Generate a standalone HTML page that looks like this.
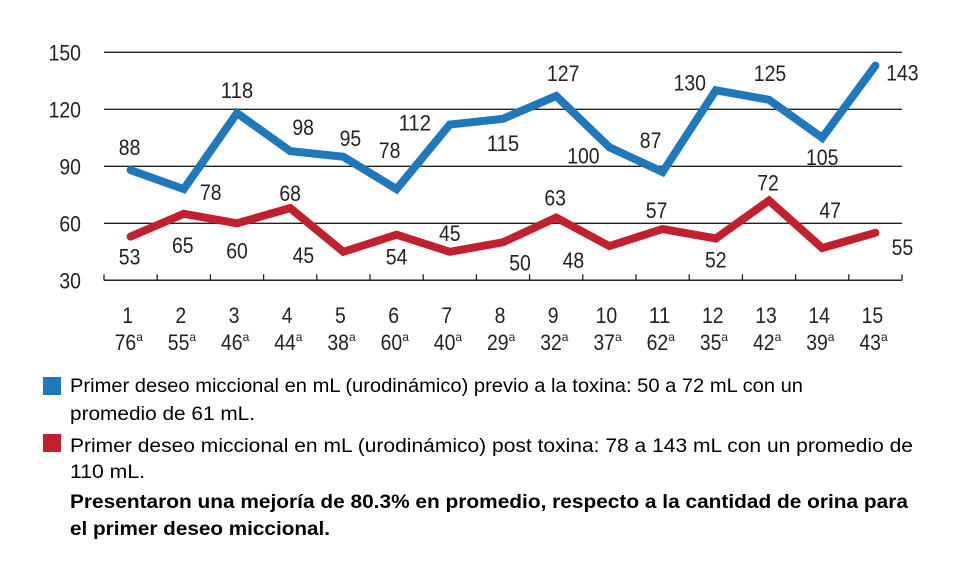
<!DOCTYPE html>
<html><head><meta charset="utf-8"><style>
html,body{margin:0;padding:0;background:#fff;}
svg{display:block;font-family:"Liberation Sans Narrow","Liberation Sans",sans-serif;}
</style></head><body>
<svg id="chart" width="958" height="562" viewBox="0 0 958 562" xmlns="http://www.w3.org/2000/svg">
<g id="grid"></g>
<g id="yaxis"></g>
<g id="xaxis"></g>
<g id="series"></g>
<g id="legend">
<rect x="43" y="377" width="18" height="18" fill="#1f78b9"/>
<text x="70" y="392" font-size="19" textLength="733" lengthAdjust="spacingAndGlyphs">Primer deseo miccional en mL (urodinámico) previo a la toxina: 50 a 72 mL con un</text>
<text x="70" y="420" font-size="19" textLength="185" lengthAdjust="spacingAndGlyphs">promedio de 61 mL.</text>
<rect x="43" y="434" width="18" height="18" fill="#c1202f"/>
<text x="70" y="452" font-size="19" textLength="843" lengthAdjust="spacingAndGlyphs">Primer deseo miccional en mL (urodinámico) post toxina: 78 a 143 mL con un promedio de</text>
<text x="70" y="478" font-size="19" textLength="75" lengthAdjust="spacingAndGlyphs">110 mL.</text>
<text x="70" y="508" font-size="19" font-weight="bold" textLength="838" lengthAdjust="spacingAndGlyphs">Presentaron una mejoría de 80.3% en promedio, respecto a la cantidad de orina para</text>
<text x="70" y="535" font-size="19" font-weight="bold" textLength="260" lengthAdjust="spacingAndGlyphs">el primer deseo miccional.</text>
</g>
</svg>
<script>
const categories=["1","2","3","4","5","6","7","8","9","10","11","12","13","14","15"];
const ages=["76","55","46","44","38","60","40","29","32","37","62","35","42","39","43"];
const previo=[88,78,118,98,95,78,112,115,127,100,87,130,125,105,143];
const post=[53,65,60,68,45,54,45,50,63,48,57,52,72,47,55];
const yTicks=[30,60,90,120,150];
const previoLabelDx=[-1,27,0,13,7,-7,-35,0,7,-26,-12,-26,1,0,27];
const previoLabelDy=[-23,3,-23,-24,-19,-39,-2,24,-23,8,-32,-8,-27,19,7];
const postLabelDx=[-1,-1,0,0,-40,0,0,17,-1,-36,-6,0,-1,8,27];
const postLabelDy=[20,31,27,-15,3,22,-19,20,-20,14,-19,21,-18,-38,14];
const NS="http://www.w3.org/2000/svg";
const L=104,R=902,Y0=280.3,PX=1.9;
const band=(R-L)/categories.length;
const x=i=>L+band*(i+0.5);
const y=v=>Y0-(v-30)*PX;
function mk(tag,attrs,parent,text){const e=document.createElementNS(NS,tag);for(const k in attrs)e.setAttribute(k,attrs[k]);if(text!==undefined)e.textContent=text;parent.appendChild(e);return e;}
const grid=document.getElementById('grid'),ya=document.getElementById('yaxis'),xa=document.getElementById('xaxis'),ser=document.getElementById('series');
yTicks.forEach(t=>{
  if(t>30){const g=mk('line',{x1:L,x2:R,y1:y(t),y2:y(t),stroke:'#222','stroke-width':1.3},grid);
  
  }
  const s=String(t);
  const tl=mk('text',{x:81-s.length*10.8,y:y(t)+8,'font-size':22,fill:'#222',textLength:s.length*10.8,lengthAdjust:'spacingAndGlyphs'},ya,s);
  
  
});
const ax=mk('line',{x1:L,x2:R,y1:Y0,y2:Y0,stroke:'#222','stroke-width':1.5},xa);


for(let i=0;i<=categories.length;i++){
  const tk=mk('line',{x1:L+band*i,x2:L+band*i,y1:Y0-6,y2:Y0,stroke:'#222','stroke-width':1.3},xa);
  
  
}
categories.forEach((c,i)=>{
  const t=mk('text',{x:x(i)-3-c.length*5.4,y:323,'font-size':22,fill:'#222',textLength:c.length*10.8,lengthAdjust:'spacingAndGlyphs'},xa,c);
  
  
  const a=mk('text',{x:x(i)-16,y:350,'font-size':22,fill:'#222'},xa);
  
  
  mk('tspan',{textLength:21.6,lengthAdjust:'spacingAndGlyphs'},a,ages[i]);
  mk('tspan',{'font-size':12,dy:-9},a,'a');
});
function drawSeries(vals,color,name,dxs,dys){
  const p=mk('polyline',{points:vals.map((v,i)=>x(i)+','+y(v)).join(' '),fill:'none',stroke:color,'stroke-width':8,'stroke-linejoin':'miter','stroke-linecap':'round'},ser);
  
  
  vals.forEach((v,i)=>{
    const s=String(v),w=s.length*10.8;
    const t=mk('text',{x:x(i)+dxs[i]-w/2,y:y(v)+dys[i]+8,'font-size':22,fill:'#222',textLength:w,lengthAdjust:'spacingAndGlyphs'},ser,s);
    
    
  });
}
drawSeries(previo,'#1f78b9','previo',previoLabelDx,previoLabelDy);
drawSeries(post,'#c1202f','post',postLabelDx,postLabelDy);
</script>
</body></html>
